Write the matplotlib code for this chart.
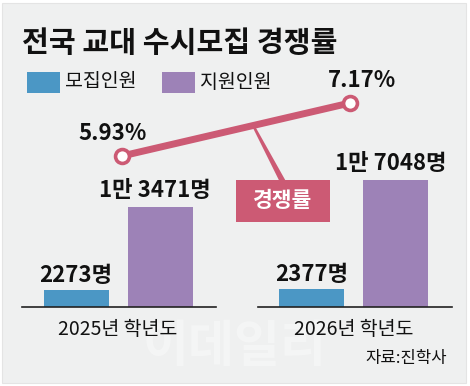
import matplotlib.pyplot as plt
import matplotlib.patches as patches
import numpy as np

plt.rcParams['font.family'] = ['Noto Sans CJK KR', 'DejaVu Sans']

# data
years = ["2025년 학년도", "2026년 학년도"]
recruit = [2273, 2377]        # 모집인원
applicants = [13471, 17048]   # 지원인원
rate = [5.93, 7.17]           # 경쟁률 (%)
recruit_labels = ["2273명", "2377명"]
applicant_labels = ["1만 3471명", "1만 7048명"]

blue = "#4b97c5"
purple = "#9d82b7"
pink = "#cc5a74"
bg = "#eff0f0"

W, H = 470, 386
fig = plt.figure(figsize=(W / 100, H / 100), dpi=100)
fig.patch.set_facecolor("white")

# gray panel
fig.patches.append(patches.Rectangle((2 / W, 3 / H), 464 / W, 380 / H,
                                     transform=fig.transFigure, facecolor=bg,
                                     edgecolor="#e4e4e4", lw=0.8, zorder=-5))

ax = fig.add_axes([0, 0, 1, 1])
ax.set_facecolor("none")
ax.axis("off")
x = np.arange(len(years))
unit = 235.5  # px per group
ax.set_xlim(-118 / unit, (W - 118) / unit)
ppl_per_px = 13471 / 100
ax.set_ylim(-79 * ppl_per_px, (H - 79) * ppl_per_px)

bw = 65 / unit
off = 42 / unit
ax.bar(x - off, recruit, width=bw, color=blue, zorder=2)
ax.bar(x + off, applicants, width=bw, color=purple, zorder=2)

# baselines
for xi in x:
    ax.plot([xi - 96 / unit, xi + 98 / unit], [0, 0], color="#222222", lw=1.2, zorder=3)

for xi, v, lab in zip(x, recruit, recruit_labels):
    ax.text(xi - off, v + 3 * ppl_per_px, lab, ha="center", va="bottom",
            fontsize=16, fontweight="bold", color="#111111")
for xi, v, lab in zip(x, applicants, applicant_labels):
    ax.text(xi + off - 0.02, v + 5 * ppl_per_px, lab, ha="center", va="bottom",
            fontsize=16, fontweight="bold", color="#111111")
for xi, lab in zip(x, years):
    ax.text(xi, -12 * ppl_per_px, lab, ha="center", va="top", fontsize=14, color="#111111")

# line on its own scale
ax2 = fig.add_axes([0, 0, 1, 1], sharex=ax)
ax2.axis("off")
ax2.set_facecolor("none")
pct_per_px = (rate[1] - rate[0]) / 53
ax2.set_ylim(rate[0] - 230 * pct_per_px, rate[0] + (H - 230) * pct_per_px)
lx = x + np.array([4, -3.5]) / unit

# callout stem: thin wedge from the line down to the label box
top_y = rate[0] + 31 * pct_per_px
bot_y = rate[0] - 24 * pct_per_px
stem = patches.Polygon([(0.567, top_y), (0.579, top_y), (0.710, bot_y), (0.683, bot_y)],
                       closed=True, facecolor=pink, edgecolor="none", zorder=3)
ax2.add_patch(stem)
ax2.plot(lx, rate, color=pink, lw=5, zorder=4)
ax2.plot(lx, rate, "o", ms=10, mfc="white", mec=pink, mew=2.6, zorder=5)
ax2.text(lx[0] - 0.04, rate[0] + 11 * pct_per_px, f"{rate[0]:.2f}%", ha="center", va="bottom",
         fontsize=16, fontweight="bold", color="#111111")
ax2.text(lx[1] + 0.05, rate[1] + 11 * pct_per_px, f"{rate[1]:.2f}%", ha="center", va="bottom",
         fontsize=16, fontweight="bold", color="#111111")

# callout box
fig.patches.append(patches.Rectangle((236 / W, 1 - 222 / H), 94 / W, 42 / H,
                                     transform=fig.transFigure, facecolor=pink, zorder=3))
fig.text(283 / W, 1 - 201 / H, "경쟁률", ha="center", va="center", fontsize=15.5,
         fontweight="bold", color="white", zorder=4)

# title and legend
fig.text(22 / W, 1 - 43 / H, "전국 교대 수시모집 경쟁률", ha="left", va="center",
         fontsize=21, fontweight="bold", color="#111111")
fig.patches.append(patches.Rectangle((27 / W, 1 - 93 / H), 33 / W, 21 / H,
                                     transform=fig.transFigure, facecolor=blue, zorder=2))
fig.text(65 / W, 1 - 82 / H, "모집인원", ha="left", va="center", fontsize=14, color="#111111")
fig.patches.append(patches.Rectangle((162 / W, 1 - 93 / H), 33 / W, 21 / H,
                                     transform=fig.transFigure, facecolor=purple, zorder=2))
fig.text(200 / W, 1 - 82 / H, "지원인원", ha="left", va="center", fontsize=14, color="#111111")

# watermark and source
fig.text(235 / W, 1 - 347 / H, "이데일리", ha="center", va="center", fontsize=36,
         fontweight="bold", color="white", alpha=0.35, zorder=-1)
fig.text(447 / W, 1 - 358 / H, "자료:진학사", ha="right", va="center", fontsize=12, color="#111111")

fig.savefig("out.png", dpi=100, facecolor=fig.get_facecolor())
